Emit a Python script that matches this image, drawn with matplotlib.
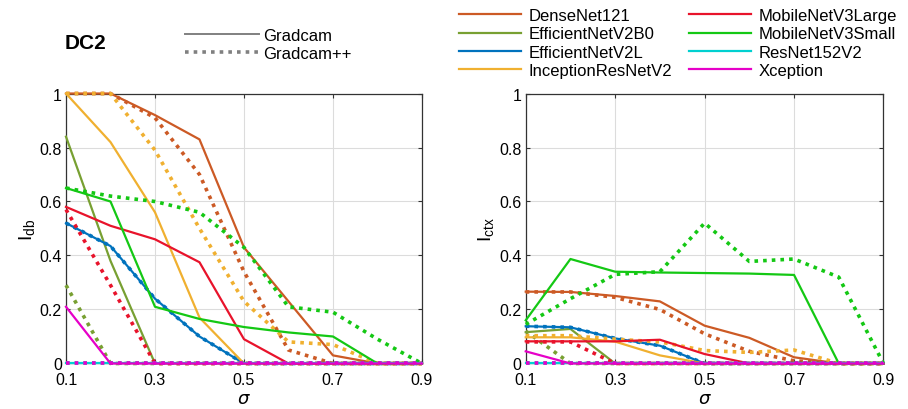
import numpy as np
import matplotlib
matplotlib.use("Agg")
import matplotlib.pyplot as plt
from matplotlib.lines import Line2D

plt.rcParams['font.family'] = ['Liberation Sans', 'DejaVu Sans']
plt.rcParams['mathtext.default'] = 'regular'

sigma = [0.1, 0.2, 0.3, 0.4, 0.5, 0.6, 0.7, 0.8, 0.9]
models = ['DenseNet121', 'EfficientNetV2B0', 'EfficientNetV2L', 'InceptionResNetV2',
          'MobileNetV3Large', 'MobileNetV3Small', 'ResNet152V2', 'Xception']
colors = ['#CC5A25', '#78A032', '#0072BD', '#F0B030',
          '#E8132B', '#14C814', '#00D0D0', '#E600C8']

# I_db, Gradcam (solid)
db_gc = {
    'DenseNet121':       [1.0, 1.0, 0.92, 0.83, 0.43, 0.23, 0.03, 0, 0],
    'EfficientNetV2B0':  [0.84, 0.38, 0, 0, 0, 0, 0, 0, 0],
    'EfficientNetV2L':   [0.52, 0.435, 0.24, 0.10, 0, 0, 0, 0, 0],
    'InceptionResNetV2': [1.0, 0.82, 0.56, 0.17, 0, 0, 0, 0, 0],
    'MobileNetV3Large':  [0.58, 0.51, 0.46, 0.375, 0.09, 0, 0, 0, 0],
    'MobileNetV3Small':  [0.65, 0.60, 0.21, 0.165, 0.135, 0.115, 0.10, 0, 0],
    'ResNet152V2':       [0, 0, 0, 0, 0, 0, 0, 0, 0],
    'Xception':          [0.21, 0, 0, 0, 0, 0, 0, 0, 0],
}
# I_db, Gradcam++ (dotted)
db_gcpp = {
    'DenseNet121':       [1.0, 1.0, 0.91, 0.70, 0.34, 0.05, 0, 0, 0],
    'EfficientNetV2B0':  [0.29, 0, 0, 0, 0, 0, 0, 0, 0],
    'EfficientNetV2L':   [0.52, 0.435, 0.24, 0.10, 0, 0, 0, 0, 0],
    'InceptionResNetV2': [1.0, 1.0, 0.79, 0.50, 0.23, 0.08, 0.07, 0, 0],
    'MobileNetV3Large':  [0.57, 0.29, 0, 0, 0, 0, 0, 0, 0],
    'MobileNetV3Small':  [0.65, 0.62, 0.60, 0.56, 0.43, 0.21, 0.19, 0.09, 0],
    'ResNet152V2':       [0, 0, 0, 0, 0, 0, 0, 0, 0],
    'Xception':          [0, 0, 0, 0, 0, 0, 0, 0, 0],
}
# I_ctx, Gradcam (solid)
ctx_gc = {
    'DenseNet121':       [0.266, 0.265, 0.25, 0.23, 0.14, 0.095, 0.023, 0, 0],
    'EfficientNetV2B0':  [0.116, 0.128, 0, 0, 0, 0, 0, 0, 0],
    'EfficientNetV2L':   [0.138, 0.134, 0.093, 0.066, 0, 0, 0, 0, 0],
    'InceptionResNetV2': [0.097, 0.097, 0.081, 0.03, 0, 0, 0, 0, 0],
    'MobileNetV3Large':  [0.082, 0.082, 0.082, 0.088, 0.035, 0, 0, 0, 0],
    'MobileNetV3Small':  [0.16, 0.387, 0.34, 0.337, 0.335, 0.333, 0.328, 0, 0],
    'ResNet152V2':       [0, 0, 0, 0, 0, 0, 0, 0, 0],
    'Xception':          [0.045, 0, 0, 0, 0, 0, 0, 0, 0],
}
# I_ctx, Gradcam++ (dotted)
ctx_gcpp = {
    'DenseNet121':       [0.265, 0.265, 0.245, 0.20, 0.11, 0.045, 0.01, 0, 0],
    'EfficientNetV2B0':  [0.12, 0, 0, 0, 0, 0, 0, 0, 0],
    'EfficientNetV2L':   [0.138, 0.134, 0.093, 0.066, 0, 0, 0, 0, 0],
    'InceptionResNetV2': [0.103, 0.103, 0.09, 0.08, 0.048, 0.041, 0.05, 0, 0],
    'MobileNetV3Large':  [0.08, 0.08, 0, 0, 0, 0, 0, 0, 0],
    'MobileNetV3Small':  [0.145, 0.24, 0.33, 0.34, 0.52, 0.378, 0.387, 0.32, 0],
    'ResNet152V2':       [0, 0, 0, 0, 0, 0, 0, 0, 0],
    'Xception':          [0, 0, 0, 0, 0, 0, 0, 0, 0],
}

DOTS = (0, (1, 1.4))


def style_axes(ax, ylabel):
    ax.set_xlim(0.1, 0.9)
    ax.set_ylim(0, 1)
    ax.set_xticks([0.1, 0.3, 0.5, 0.7, 0.9])
    ax.set_xticklabels(['0.1', '0.3', '0.5', '0.7', '0.9'])
    ax.set_yticks([0, 0.2, 0.4, 0.6, 0.8, 1])
    ax.set_yticklabels(['0', '0.2', '0.4', '0.6', '0.8', '1'])
    ax.grid(True, color='#dcdcdc', linewidth=0.8)
    ax.set_axisbelow(True)
    ax.tick_params(direction='in', top=True, right=True, length=3,
                   labelsize=11.5, color='#333333')
    ax.tick_params(axis='x', pad=6)
    ax.tick_params(axis='y', pad=3)
    for sp in ax.spines.values():
        sp.set_color('#333333')
        sp.set_linewidth(0.9)
    ax.set_xlabel(r'$\mathit{\sigma}$', fontsize=13, labelpad=2)
    ax.set_ylabel(ylabel, fontsize=14, labelpad=2)


fig = plt.figure(figsize=(9.08, 4.10), dpi=100)
ax1 = fig.add_axes([0.0727, 0.111, 0.392, 0.6585])
ax2 = fig.add_axes([0.579, 0.111, 0.394, 0.6585])

handles = []
for ax, solid, dotted in [(ax1, db_gc, db_gcpp), (ax2, ctx_gc, ctx_gcpp)]:
    for name, c in zip(models, colors):
        ln, = ax.plot(sigma, solid[name], color=c, lw=1.6, clip_on=False, zorder=3)
        ax.plot(sigma, dotted[name], color=c, lw=2.6, linestyle=DOTS,
                clip_on=False, zorder=3)
        if ax is ax1:
            handles.append(ln)

style_axes(ax1, 'I$_{db}$')
style_axes(ax2, 'I$_{ctx}$')

fig.text(0.071, 0.895, 'DC2', fontsize=15, fontweight='bold', va='center')

style_handles = [Line2D([], [], color='#808080', lw=1.4),
                 Line2D([], [], color='#808080', lw=2.6, linestyle=DOTS)]
fig.legend(style_handles, ['Gradcam', 'Gradcam++'], loc='upper left',
           bbox_to_anchor=(0.204, 0.93), frameon=False, fontsize=12,
           handlelength=4.4, handletextpad=0.3, labelspacing=0.2,
           borderpad=0, borderaxespad=0)

fig.legend(handles, models, loc='upper left', ncol=2,
           bbox_to_anchor=(0.505, 0.978), frameon=False, fontsize=12,
           handlelength=3.75, handletextpad=0.45, labelspacing=0.2,
           columnspacing=1.0, borderpad=0, borderaxespad=0)

fig.savefig('out.png', dpi=100)
